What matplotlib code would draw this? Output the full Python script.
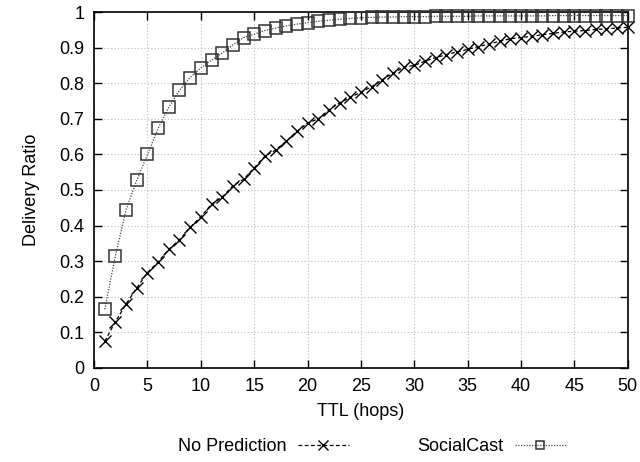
import matplotlib
matplotlib.use("Agg")
import matplotlib.pyplot as plt
from matplotlib.ticker import MultipleLocator

plt.rcParams['font.family'] = ['Liberation Sans', 'DejaVu Sans']

ttl = list(range(1, 51))

no_prediction = [
    0.075, 0.130, 0.180, 0.225, 0.268, 0.298, 0.333, 0.360, 0.395, 0.425,
    0.460, 0.480, 0.512, 0.530, 0.562, 0.595, 0.612, 0.637, 0.665, 0.688,
    0.700, 0.725, 0.745, 0.760, 0.775, 0.790, 0.810, 0.828, 0.845, 0.850,
    0.862, 0.872, 0.880, 0.888, 0.895, 0.903, 0.910, 0.918, 0.925, 0.928,
    0.932, 0.936, 0.940, 0.944, 0.946, 0.948, 0.951, 0.953, 0.955, 0.957,
]

socialcast = [
    0.165, 0.315, 0.445, 0.527, 0.600, 0.673, 0.733, 0.780, 0.816, 0.843,
    0.865, 0.885, 0.908, 0.928, 0.938, 0.948, 0.955, 0.961, 0.966, 0.970,
    0.974, 0.977, 0.980, 0.982, 0.984, 0.985, 0.986, 0.986, 0.987, 0.987,
    0.987, 0.988, 0.988, 0.988, 0.988, 0.989, 0.989, 0.989, 0.989, 0.989,
    0.989, 0.989, 0.990, 0.990, 0.990, 0.990, 0.990, 0.990, 0.990, 0.990,
]

FS = 13

fig = plt.figure(figsize=(6.4, 4.62), dpi=100)
ax = fig.add_axes([0.147, 0.2035, 0.834, 0.7705])

ax.plot(ttl, no_prediction, color='black', linestyle=(0, (3, 2)), linewidth=0.9,
        marker='x', markersize=8.5, markeredgewidth=1.0, label='No Prediction',
        clip_on=False, zorder=3)
ax.plot(ttl, socialcast, color='#444444', linestyle=(0, (1, 1.2)), linewidth=0.9,
        marker='s', markersize=8, markerfacecolor='none', markeredgecolor='#333333',
        markeredgewidth=1.1, label='SocialCast', clip_on=False, zorder=3)

ax.set_xlim(0, 50)
ax.set_ylim(0, 1)
ax.xaxis.set_major_locator(MultipleLocator(5))
ax.yaxis.set_major_locator(MultipleLocator(0.1))
ax.set_yticklabels([('0' if v == 0 else ('1' if v == 1 else f'{v:.1f}')) for v in ax.get_yticks()])

ax.grid(True, color='#bbbbbb', linestyle=(0, (1, 2)), linewidth=0.8)
ax.set_axisbelow(True)
ax.tick_params(direction='in', length=6, width=1.0, top=True, right=True,
               labelsize=FS, pad=7)
for s in ax.spines.values():
    s.set_linewidth(1.2)

ax.set_xlabel('TTL (hops)', fontsize=FS, labelpad=6)
ax.set_ylabel('Delivery Ratio', fontsize=FS, labelpad=14)

fig.legend(loc='center', bbox_to_anchor=(0.581, 0.033), ncol=2, frameon=False,
           markerfirst=False, fontsize=FS, handlelength=2.8, columnspacing=3.8,
           handletextpad=0.65, markerscale=0.8)

fig.savefig('out.png', dpi=100)
